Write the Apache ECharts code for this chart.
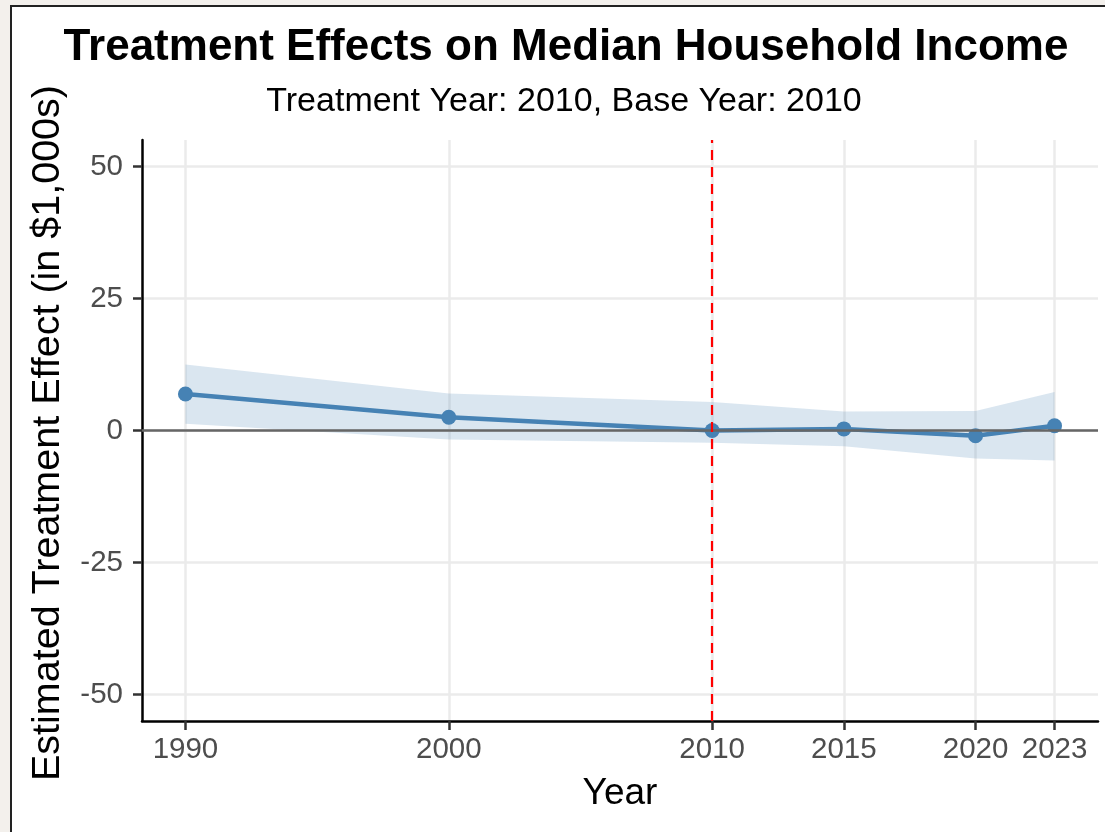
<!DOCTYPE html>
<html>
<head>
<meta charset="utf-8">
<script src="https://cdn.jsdelivr.net/npm/echarts@6/dist/echarts.min.js"></script>
<style>
  html, body { margin: 0; padding: 0; width: 1105px; height: 832px; overflow: hidden; background: #f3f0ec; }
  #frame { position: absolute; left: 10px; top: 5px; width: 1200px; height: 900px; background: #ffffff; border-left: 2px solid #222; border-top: 2px solid #222; }
  #chart { position: absolute; left: 0; top: 0; width: 1105px; height: 832px; }
</style>
</head>
<body>
<div id="frame"></div>
<div id="chart"></div>
<script>
// ---- data ----
const years = [1990, 2000, 2010, 2015, 2020, 2023];
const estimate = [6.9, 2.5, 0.0, 0.3, -1.0, 0.9];
const ciLower = [1.3, -1.7, -2.3, -3.0, -5.3, -5.7];
const ciUpper = [12.5, 7.0, 5.4, 3.6, 3.7, 7.3];
const xTicks = [1990, 2000, 2010, 2015, 2020, 2023];
const yTicks = [-50, -25, 0, 25, 50];
const treatmentYear = 2010;

const titleText = 'Treatment Effects on Median Household Income';
const subtitleText = 'Treatment Year: 2010, Base Year: 2010';
const xTitle = 'Year';
const yTitle = 'Estimated Treatment Effect (in $1,000s)';

const FONT = '"Liberation Sans", Arial, Helvetica, sans-serif';

const chart = echarts.init(document.getElementById('chart'), null, { renderer: 'canvas' });

const estPairs = years.map((y, i) => [y, estimate[i]]);
const bandData = years.map((y, i) => [y, ciLower[i], ciUpper[i]]);

const gridLineStyle = { color: '#ebebeb', width: 2.5, type: 'solid' };

const option = {
  animation: false,
  backgroundColor: 'transparent',
  grid: { left: 142, right: 7, top: 140, bottom: 111, containLabel: false },
  xAxis: {
    type: 'value',
    min: 1988.35,
    max: 2024.65,
    splitLine: { show: false },
    axisLine: { show: true, onZero: false, lineStyle: { color: '#000', width: 2.5 } },
    axisTick: { show: true, length: 9, customValues: xTicks, lineStyle: { color: '#333', width: 2.5 } },
    axisLabel: { show: true, customValues: xTicks, margin: 14, fontSize: 29.5, color: '#4d4d4d', fontFamily: FONT,
      formatter: v => String(v) }
  },
  yAxis: {
    type: 'value',
    min: -55,
    max: 55,
    splitLine: { show: false },
    axisLine: { show: true, onZero: false, lineStyle: { color: '#000', width: 2.5 } },
    axisTick: { show: true, length: 9, customValues: yTicks, lineStyle: { color: '#333', width: 2.5 } },
    axisLabel: { show: true, customValues: yTicks, margin: 19, fontSize: 29.5, color: '#4d4d4d', fontFamily: FONT,
      formatter: v => String(v) }
  },
  graphic: [
    { type: 'text', x: 566, y: 48, style: { text: titleText, font: 'bold 44px ' + FONT, fill: '#000', align: 'center', verticalAlign: 'middle' } },
    { type: 'text', x: 564, y: 102, style: { text: subtitleText, font: '34px ' + FONT, fill: '#000', align: 'center', verticalAlign: 'middle' } },
    { type: 'text', x: 620, y: 794, style: { text: xTitle, font: '37px ' + FONT, fill: '#000', align: 'center', verticalAlign: 'middle' } },
    { type: 'text', x: 48, y: 433, rotation: Math.PI / 2, style: { text: yTitle, font: '39.5px ' + FONT, fill: '#000', align: 'center', verticalAlign: 'middle' } }
  ],
  series: [
    {
      name: 'grid', type: 'line', data: [], z: 0, silent: true,
      markLine: {
        z: 0,
        silent: true, symbol: 'none', label: { show: false }, animation: false,
        lineStyle: gridLineStyle,
        data: xTicks.map(v => ({ xAxis: v })).concat(yTicks.map(v => ({ yAxis: v })))
      }
    },
    {
      name: 'ciBand', type: 'custom', z: 1, silent: true,
      data: [0],
      renderItem: function (params, api) {
        const upper = bandData.map(d => api.coord([d[0], d[2]]));
        const lower = bandData.map(d => api.coord([d[0], d[1]])).reverse();
        return {
          type: 'polygon',
          shape: { points: upper.concat(lower) },
          style: { fill: 'rgba(70,130,180,0.2)', stroke: 'none' }
        };
      }
    },
    {
      name: 'estimate', type: 'line', data: estPairs, z: 3,
      symbol: 'circle', symbolSize: 15,
      itemStyle: { color: '#4682b4', borderWidth: 0 },
      lineStyle: { color: '#4682b4', width: 4.5 }
    },
    {
      name: 'refs', type: 'line', data: [], z: 10, silent: true,
      markLine: {
        z: 10,
        silent: true, symbol: 'none', label: { show: false }, animation: false,
        data: [
          { yAxis: 0, lineStyle: { color: '#666666', width: 2.5, type: 'solid' } },
          { xAxis: treatmentYear, lineStyle: { color: '#ff0000', width: 2.2, type: [10, 7] } }
        ]
      }
    }
  ]
};

chart.setOption(option);
</script>
</body>
</html>
